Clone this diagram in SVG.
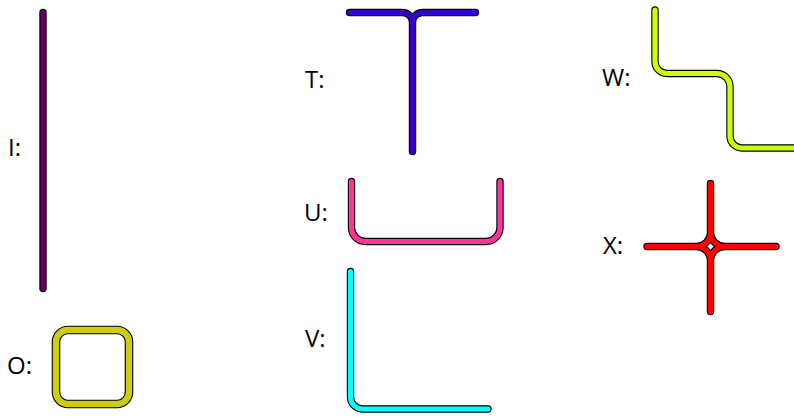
<svg xmlns="http://www.w3.org/2000/svg" xmlns:xlink="http://www.w3.org/1999/xlink" width="794" height="418" viewBox="0 0 794 418">
<style>
  .lbl { font-family: "Open Sans", "Liberation Sans", Arial, sans-serif; font-size: 24px; fill: #000; }
  .edge { fill: none; stroke: #000; stroke-width: 7.4; stroke-linecap: round; stroke-linejoin: round; }
  .core { fill: none; stroke-width: 5.2; stroke-linecap: round; stroke-linejoin: round; }
  .edgeO { fill: none; stroke: #000; stroke-width: 8.6; }
  .coreO { fill: none; stroke-width: 6.4; }
</style>
<defs>
  <path id="pI" d="M43,12.5 V288.5"/>
  <rect id="pO" x="56" y="330" width="73" height="74" rx="12" ry="12"/>
  <path id="pT" d="M349.5,12.5 H402.5 A10,10 0 0 1 412.5,22.5 V151.5 M475.5,12.5 H422.5 A10,10 0 0 0 412.5,22.5"/>
  <path id="pU" d="M351.5,181.5 V227.5 A14,14 0 0 0 365.5,241.5 H486 A14,14 0 0 0 500,227.5 V181.5"/>
  <path id="pV" d="M350.5,271.5 V397 A12,12 0 0 0 362.5,409 H488"/>
  <path id="pW" d="M655,10 V61.5 A12,12 0 0 0 667,73.5 H717 A13,13 0 0 1 730,86.5 V136 A12,12 0 0 0 742,148 H800"/>
  <path id="pX" d="M647,246.5 H696.5 A14,14 0 0 0 710.5,232.5 V183.5 M710.5,232.5 A14,14 0 0 0 724.5,246.5 H776 M724.5,246.5 A14,14 0 0 0 710.5,260.5 V311.5 M710.5,260.5 A14,14 0 0 0 696.5,246.5"/>
</defs>
<g id="node-I">
  <use xlink:href="#pI" class="edge"/>
  <use xlink:href="#pI" class="core" stroke="#660066"/>
  <text class="lbl" x="8" y="156">I:</text>
</g>
<g id="node-O">
  <use xlink:href="#pO" class="edgeO"/>
  <use xlink:href="#pO" class="coreO" stroke="#cccc11"/>
  <text class="lbl" x="7" y="374">O:</text>
</g>
<g id="node-T">
  <use xlink:href="#pT" class="edge"/>
  <use xlink:href="#pT" class="core" stroke="#3300cc"/>
  <text class="lbl" x="305" y="88">T:</text>
</g>
<g id="node-U">
  <use xlink:href="#pU" class="edge"/>
  <use xlink:href="#pU" class="core" stroke="#ff3399"/>
  <text class="lbl" x="304" y="221">U:</text>
</g>
<g id="node-V">
  <use xlink:href="#pV" class="edge"/>
  <use xlink:href="#pV" class="core" stroke="#00ffff"/>
  <text class="lbl" x="305" y="347">V:</text>
</g>
<g id="node-W">
  <use xlink:href="#pW" class="edge"/>
  <use xlink:href="#pW" class="core" stroke="#ccff00"/>
  <text class="lbl" x="602" y="86">W:</text>
</g>
<g id="node-X">
  <use xlink:href="#pX" class="edge"/>
  <use xlink:href="#pX" class="core" stroke="#ff0000"/>
  <text class="lbl" x="603" y="254">X:</text>
</g>
<g id="connectors"></g>
</svg>
